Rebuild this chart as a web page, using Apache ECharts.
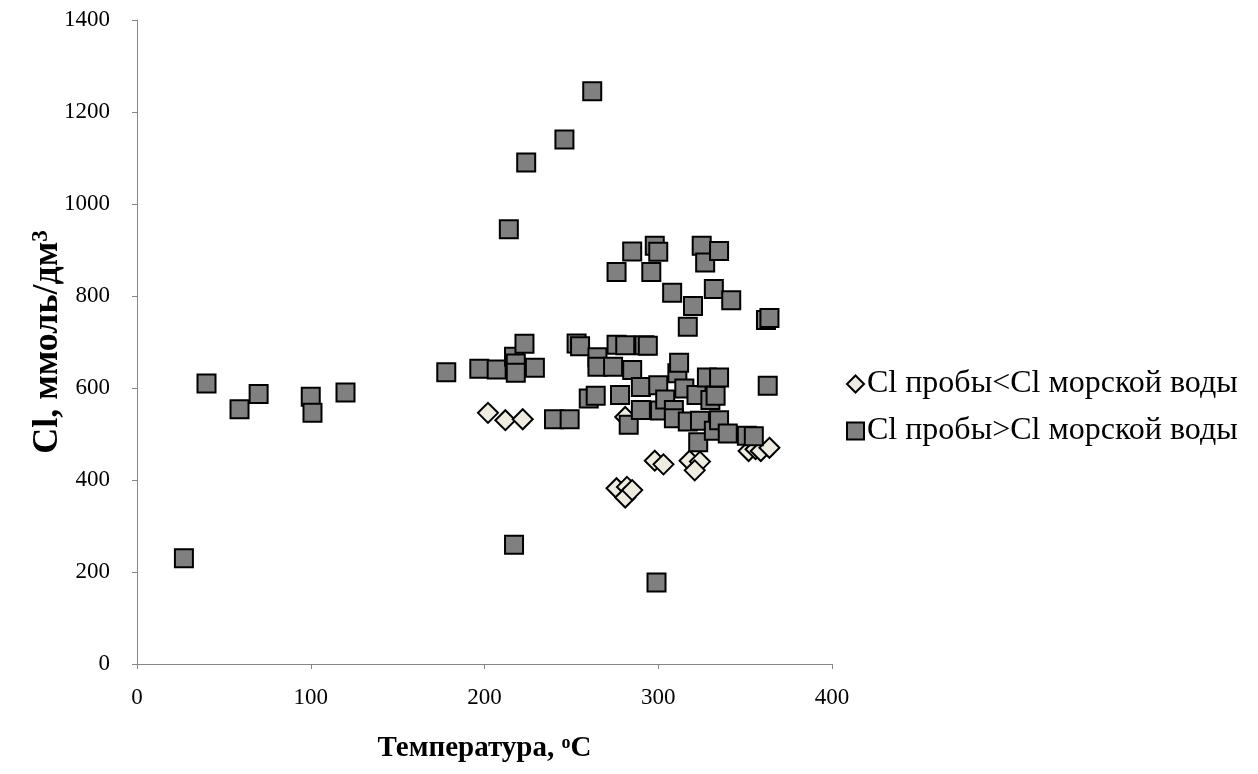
<!DOCTYPE html>
<html><head><meta charset="utf-8">
<script src="https://cdn.jsdelivr.net/npm/echarts@6/dist/echarts.min.js"></script>
<style>html,body{margin:0;padding:0;background:#fff}#c{width:1258px;height:774px}</style>
</head><body><div id="c"></div>
<script>
const seriesNames = ['Cl пробы<Cl морской воды', 'Cl пробы>Cl морской воды'];
const xTicks = [0, 100, 200, 300, 400];
const yTicks = [0, 200, 400, 600, 800, 1000, 1200, 1400];
const belowSea = [
  [202,546],[212,530],[222,532],[281,537],[276,382],[282,385],[281,362],[285,378],
  [298,442],[303,434],[318,442],[324,440],[321,421],[352,463],[356,467],[359,463],[364,470]
];
const aboveSea = [
  [27,230],[40,610],[59,554],[70,587],[100,581],[101,546],[120,590],[178,634],[197,642],
  [207,640],[214,945],[217,259],[217,668],[218,653],[218,633],[223,696],[224,1090],[229,644],
  [240,532],[246,1140],[249,532],[253,697],[255,691],[260,577],[262,1245],[264,583],[265,667],
  [265,646],[274,646],[276,852],[276,694],[278,585],[281,693],[283,520],[285,639],[285,897],
  [290,602],[290,552],[292,693],[294,692],[296,852],[298,909],[299,177],[300,896],[300,606],
  [301,551],[304,575],[308,807],[309,552],[309,534],[311,632],[312,655],[315,599],[317,733],
  [317,527],[320,778],[322,585],[323,482],[324,529],[325,909],[327,873],[328,623],[330,574],
  [332,815],[332,507],[333,583],[335,623],[335,898],[335,530],[340,501],[342,791],[351,496],
  [355,495],[362,748],[364,752],[363,605]
];
const chart = echarts.init(document.getElementById('c'));
const font = 'Liberation Serif, Times New Roman, serif';
chart.setOption({
  animation: false,
  textStyle: {fontFamily: font},
  grid: {left: 137, right: 426, top: 20, bottom: 110},
  legend: {
    orient: 'vertical', left: 841, top: 363, itemGap: 15, itemWidth: 17, itemHeight: 17,
    textStyle: {fontFamily: font, fontSize: 32, color: '#000', padding: [0,0,0,-2]},
    data: [{name: seriesNames[0], icon: 'diamond'}, {name: seriesNames[1], icon: 'rect'}]
  },
  xAxis: {
    type: 'value', min: xTicks[0], max: xTicks[xTicks.length-1], interval: 100,
    splitLine: {show: false},
    axisLine: {lineStyle: {color: '#868686', width: 1}},
    axisTick: {show: true, length: 5, lineStyle: {color: '#868686'}},
    axisLabel: {fontFamily: font, fontSize: 23, color: '#000', margin: 22},
    name: '{b|Температура, }{s|o}{b|C}', nameLocation: 'middle', nameGap: 70,
    nameTextStyle: {rich: {
      b: {fontFamily: font, fontSize: 29, fontWeight: 'bold', color: '#000'},
      s: {fontFamily: font, fontSize: 18, fontWeight: 'bold', color: '#000', verticalAlign: 'top', padding: [0,0,10,0]}
    }}
  },
  yAxis: {
    type: 'value', min: yTicks[0], max: yTicks[yTicks.length-1], interval: 200,
    splitLine: {show: false},
    axisLine: {show: true, lineStyle: {color: '#868686', width: 1}},
    axisTick: {show: true, length: 5, lineStyle: {color: '#868686'}},
    axisLabel: {fontFamily: font, fontSize: 23, color: '#000', margin: 27, formatter: v => String(v)},
    name: '{b|Cl, ммоль/дм}{s|3}', nameLocation: 'middle', nameGap: 71, nameRotate: 90,
    nameMoveOverlap: false,
    nameTextStyle: {rich: {
      b: {fontFamily: font, fontSize: 36, fontWeight: 'bold', color: '#000'},
      s: {fontFamily: font, fontSize: 23, fontWeight: 'bold', color: '#000', verticalAlign: 'top', padding: [0,0,12,0]}
    }}
  },
  series: [
    {name: seriesNames[0], type: 'scatter', symbol: 'diamond', symbolSize: 20, data: belowSea,
     itemStyle: {color: '#EEECE1', borderColor: '#000', borderWidth: 2, opacity: 1}},
    {name: seriesNames[1], type: 'scatter', symbol: 'rect', symbolSize: 18, data: aboveSea,
     itemStyle: {color: '#808080', borderColor: '#000', borderWidth: 2, opacity: 1}}
  ]
});
</script></body></html>
